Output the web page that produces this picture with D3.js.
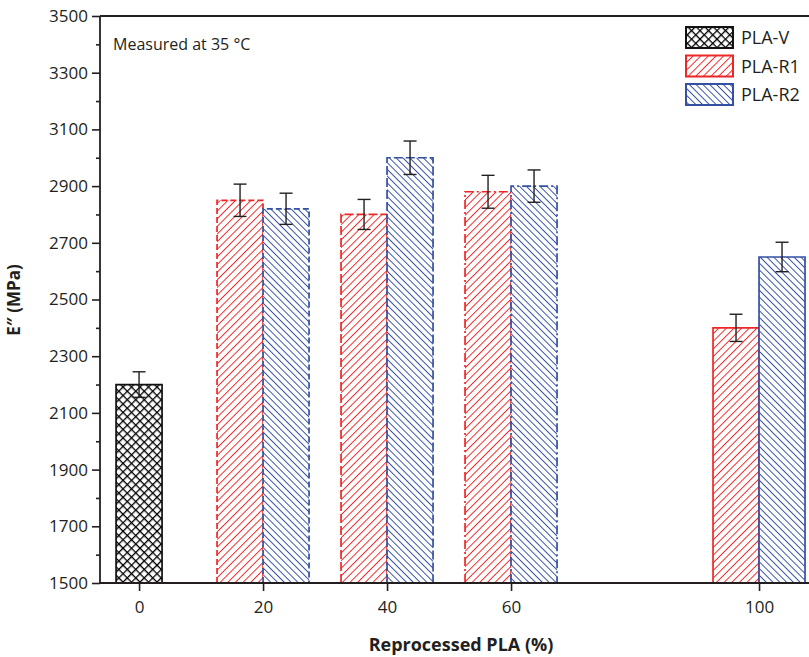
<!DOCTYPE html>
<html><head><meta charset="utf-8">
<script src="https://cdn.jsdelivr.net/npm/d3@7"></script>
<style>body{margin:0;background:#fff}svg{display:block}text{font-family:"Open Sans",sans-serif;fill:#231f20}</style>
</head><body><svg id="c" width="809" height="657"></svg>
<script>
const categories = [0, 20, 40, 60, 100];
const plaVX = [0];
const plaVValues = [2200];
const plaVErr = [45];
const r1X = [20, 40, 60, 100];
const r1Values = [2850, 2800, 2880, 2400];
const r1Err = [57, 53, 58, 48];
const r2X = [20, 40, 60, 100];
const r2Values = [2820, 3000, 2900, 2650];
const r2Err = [55, 59, 57, 52];
const borderStyles = ["6,3", "9,3", "9,3,2,3", null]; // per reprocessed group
const yTicks = [1500, 1700, 1900, 2100, 2300, 2500, 2700, 2900, 3100, 3300, 3500];
const legendLabels = ["PLA-V", "PLA-R1", "PLA-R2"];

const RED = "#ee2626", BLUE = "#3450a3", BLACK = "#111";
const svg = d3.select("#c");
const x = d3.scaleLinear().domain([-6.3, 108.06]).range([100, 809]);
const y = d3.scaleLinear().domain([1500, 3500]).range([583, 16]);
const bw = 7.42;

const defs = svg.append("defs");
function hatch(id, color, dir, sp, sw) {
  const p = defs.append("pattern").attr("id", id).attr("patternUnits", "userSpaceOnUse")
    .attr("width", sp).attr("height", sp)
    .attr("patternTransform", `rotate(${dir})`);
  p.append("rect").attr("width", sp).attr("height", sp).attr("fill", "#fff");
  p.append("line").attr("x1", 0).attr("y1", 0).attr("x2", 0).attr("y2", sp)
    .attr("stroke", color).attr("stroke-width", sw);
}
hatch("pR1", RED, 45, 5.4, 1.9);
hatch("pR2", BLUE, -45, 4.8, 1.9);
{
  const sp = 6;
  const p = defs.append("pattern").attr("id", "pV").attr("patternUnits", "userSpaceOnUse")
    .attr("width", sp).attr("height", sp).attr("patternTransform", "rotate(45)");
  p.append("rect").attr("width", sp).attr("height", sp).attr("fill", "#fff");
  p.append("line").attr("x1", 0).attr("y1", 0).attr("x2", 0).attr("y2", sp).attr("stroke", "#000").attr("stroke-width", 2.6);
  p.append("line").attr("x1", 0).attr("y1", 0).attr("x2", sp).attr("y2", 0).attr("stroke", "#000").attr("stroke-width", 2.6);
}

// Bars
function bar(x0, x1, v, fill, stroke, dash) {
  svg.append("rect").attr("x", x(x0)).attr("y", y(v)).attr("width", x(x1) - x(x0)).attr("height", y(1500) - y(v))
    .attr("fill", `url(#${fill})`);
  const path = d3.path();
  path.moveTo(x(x0), y(1500)); path.lineTo(x(x0), y(v)); path.lineTo(x(x1), y(v)); path.lineTo(x(x1), y(1500));
  svg.append("path").attr("d", path.toString()).attr("fill", "none").attr("stroke", stroke)
    .attr("stroke-width", 1.7).attr("stroke-dasharray", dash);
}
function err(cx, v, e) {
  const g = svg.append("g").attr("stroke", "#231f20").attr("stroke-width", 1.4);
  g.append("line").attr("x1", x(cx)).attr("x2", x(cx)).attr("y1", y(v - e)).attr("y2", y(v + e));
  [v - e, v + e].forEach(t => g.append("line").attr("x1", x(cx) - 6.5).attr("x2", x(cx) + 6.5).attr("y1", y(t)).attr("y2", y(t)));
}
plaVX.forEach((c, i) => bar(c - bw / 2, c + bw / 2, plaVValues[i], "pV", BLACK, null));
r1X.forEach((c, i) => bar(c - bw, c, r1Values[i], "pR1", RED, borderStyles[i]));
r2X.forEach((c, i) => bar(c, c + bw, r2Values[i], "pR2", BLUE, borderStyles[i]));
plaVX.forEach((c, i) => err(c, plaVValues[i], plaVErr[i]));
r1X.forEach((c, i) => err(c - bw / 2, r1Values[i], r1Err[i]));
r2X.forEach((c, i) => err(c + bw / 2, r2Values[i], r2Err[i]));

// Axes
const yAxis = svg.append("g").attr("transform", "translate(100,0)")
  .call(d3.axisLeft(y).tickValues(yTicks).tickFormat(d3.format("d")).tickSize(8).tickPadding(4));
svg.append("g").attr("transform", "translate(100,0)")
  .call(d3.axisLeft(y).tickValues(d3.range(1600, 3500, 200)).tickFormat("").tickSize(4))
  .select(".domain").remove();
const xAxis = svg.append("g").attr("transform", "translate(0,583)")
  .call(d3.axisBottom(x).tickValues(categories).tickFormat(d3.format("d")).tickSize(8).tickPadding(10));
svg.selectAll(".tick line").attr("stroke", "#231f20").attr("stroke-width", 1.6);
svg.selectAll(".domain").attr("stroke", "#231f20").attr("stroke-width", 1.8);
yAxis.select(".domain").attr("d", "M0,583V16");
xAxis.select(".domain").attr("d", "M100,0H809");
svg.selectAll(".tick text").style("font-size", "17px").attr("fill", "#231f20").style("font-family", "'Open Sans',sans-serif");
svg.append("line").attr("x1", 100).attr("x2", 809).attr("y1", 16).attr("y2", 16).attr("stroke", "#231f20").attr("stroke-width", 1.8);

// Titles
svg.append("text").attr("x", 461).attr("y", 651).attr("text-anchor", "middle")
  .style("font-size", "18px").style("font-weight", "bold").text("Reprocessed PLA (%)");
svg.append("text").attr("transform", "translate(20,300) rotate(-90)").attr("text-anchor", "middle")
  .style("font-size", "17px").style("font-weight", "bold").text("E\u2033 (MPa)");
svg.append("text").attr("x", 113).attr("y", 50).style("font-size", "16px").text("Measured at 35 \u00B0C");

// Legend
const lg = svg.append("g");
const fills = ["pV", "pR1", "pR2"], strokes = [BLACK, RED, BLUE];
legendLabels.forEach((t, i) => {
  const yy = 27 + i * 28.5;
  lg.append("rect").attr("x", 686).attr("y", yy).attr("width", 47).attr("height", 21)
    .attr("fill", `url(#${fills[i]})`).attr("stroke", strokes[i]).attr("stroke-width", 2);
  lg.append("text").attr("x", 741).attr("y", yy + 17).style("font-size", "18px").text(t);
});
</script></body></html>
